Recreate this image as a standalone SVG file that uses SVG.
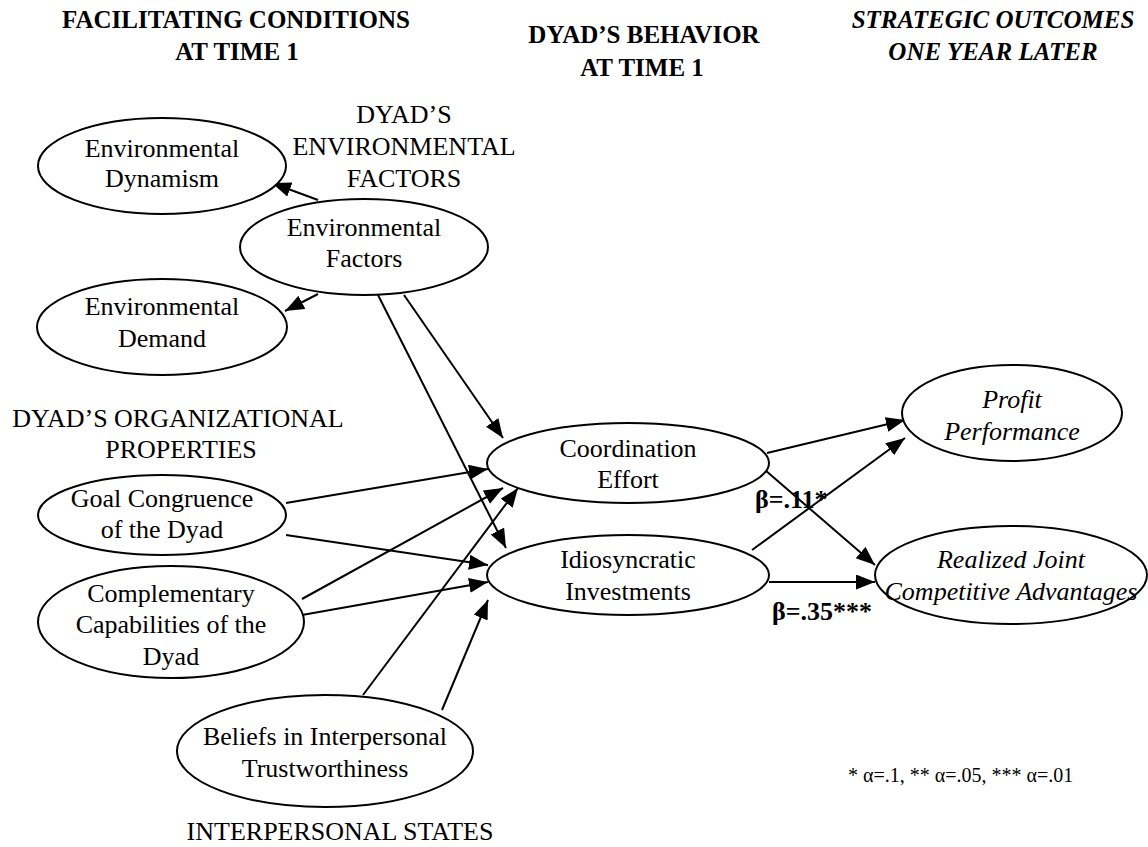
<svg xmlns="http://www.w3.org/2000/svg" width="1148" height="847" viewBox="0 0 1148 847">
<defs>
<marker id="ah" markerUnits="userSpaceOnUse" markerWidth="20" markerHeight="16" refX="19" refY="7.5" orient="auto">
<path d="M0,0 L19,7.5 L0,15 z" fill="#000"/>
</marker>
<style>
text{font-family:"Liberation Serif","Times New Roman",serif;fill:#000}
.t{font-size:25px;font-weight:bold;text-anchor:middle}
.ti{font-size:25px;font-weight:bold;font-style:italic;text-anchor:middle}
.l{font-size:26px;text-anchor:middle}
.n{font-size:26px;text-anchor:middle}
.ni{font-size:26px;font-style:italic;text-anchor:middle}
.b{font-size:26px;font-weight:bold}
.f{font-size:20px}
ellipse{fill:#fff;stroke:#000;stroke-width:2}
#connectors line{stroke:#000;stroke-width:2;marker-end:url(#ah)}
</style>
</defs>
<rect width="1148" height="847" fill="#fff"/>

<g id="headings">
<text class="t" x="236" y="28">FACILITATING CONDITIONS</text>
<text class="t" x="237" y="60">AT TIME 1</text>
<text class="t" x="644" y="43">DYAD’S BEHAVIOR</text>
<text class="t" x="642" y="76">AT TIME 1</text>
<text class="ti" x="993" y="28">STRATEGIC OUTCOMES</text>
<text class="ti" x="993" y="60">ONE YEAR LATER</text>
<text class="l" x="404" y="123">DYAD’S</text>
<text class="l" x="404" y="155">ENVIRONMENTAL</text>
<text class="l" x="404" y="187">FACTORS</text>
<text class="l" x="178" y="427">DYAD’S ORGANIZATIONAL</text>
<text class="l" x="181" y="458">PROPERTIES</text>
<text class="l" x="340" y="840">INTERPERSONAL STATES</text>
</g>

<g id="connectors">
<line x1="318" y1="200" x2="272" y2="183"/>
<line x1="318" y1="294" x2="285" y2="311"/>
<line x1="404" y1="295" x2="503" y2="438"/>
<line x1="378" y1="295" x2="506" y2="548"/>
<line x1="286" y1="503" x2="488" y2="469"/>
<line x1="286" y1="535" x2="488" y2="565"/>
<line x1="302" y1="599" x2="503" y2="488"/>
<line x1="302" y1="615" x2="488" y2="582"/>
<line x1="363" y1="695" x2="518" y2="488"/>
<line x1="442" y1="710" x2="488" y2="600"/>
<line x1="767" y1="453" x2="905" y2="420"/>
<line x1="765" y1="470" x2="875" y2="565"/>
<line x1="752" y1="550" x2="905" y2="438"/>
<line x1="769" y1="582" x2="875" y2="582"/>
</g>

<g id="env-dynamism">
<ellipse cx="162" cy="166" rx="124" ry="48"/>
<text class="n" x="162" y="157">Environmental</text>
<text class="n" x="162" y="187">Dynamism</text>
</g>
<g id="env-factors">
<ellipse cx="364" cy="247" rx="124" ry="48"/>
<text class="n" x="364" y="236">Environmental</text>
<text class="n" x="364" y="267">Factors</text>
</g>
<g id="env-demand">
<ellipse cx="162" cy="327" rx="125" ry="48"/>
<text class="n" x="162" y="315">Environmental</text>
<text class="n" x="162" y="347">Demand</text>
</g>
<g id="goal-congruence">
<ellipse cx="162" cy="515" rx="124" ry="40"/>
<text class="n" x="162" y="507">Goal Congruence</text>
<text class="n" x="162" y="538">of the Dyad</text>
</g>
<g id="complementary-capabilities">
<ellipse cx="171" cy="622" rx="133" ry="56"/>
<text class="n" x="171" y="602">Complementary</text>
<text class="n" x="171" y="633">Capabilities of the</text>
<text class="n" x="171" y="665">Dyad</text>
</g>
<g id="beliefs">
<ellipse cx="325" cy="751" rx="148" ry="56"/>
<text class="n" x="325" y="745">Beliefs in Interpersonal</text>
<text class="n" x="325" y="777">Trustworthiness</text>
</g>
<g id="coordination-effort">
<ellipse cx="628" cy="463" rx="141" ry="40"/>
<text class="n" x="628" y="457">Coordination</text>
<text class="n" x="628" y="488">Effort</text>
</g>
<g id="idiosyncratic-investments">
<ellipse cx="628" cy="575" rx="141" ry="40"/>
<text class="n" x="628" y="568">Idiosyncratic</text>
<text class="n" x="628" y="600">Investments</text>
</g>
<g id="profit-performance">
<ellipse cx="1012" cy="413" rx="110" ry="48"/>
<text class="ni" x="1012" y="408">Profit</text>
<text class="ni" x="1012" y="440">Performance</text>
</g>
<g id="realized-advantages">
<ellipse cx="1011" cy="575" rx="136" ry="49"/>
<text class="ni" x="1011" y="568">Realized Joint</text>
<text class="ni" x="1011" y="600">Competitive Advantages</text>
</g>

<g id="labels">
<text class="b" x="755" y="508">β=.11*</text>
<text class="b" x="772" y="620">β=.35***</text>
<text class="f" x="848" y="782">* α=.1, ** α=.05, *** α=.01</text>
</g>
</svg>
